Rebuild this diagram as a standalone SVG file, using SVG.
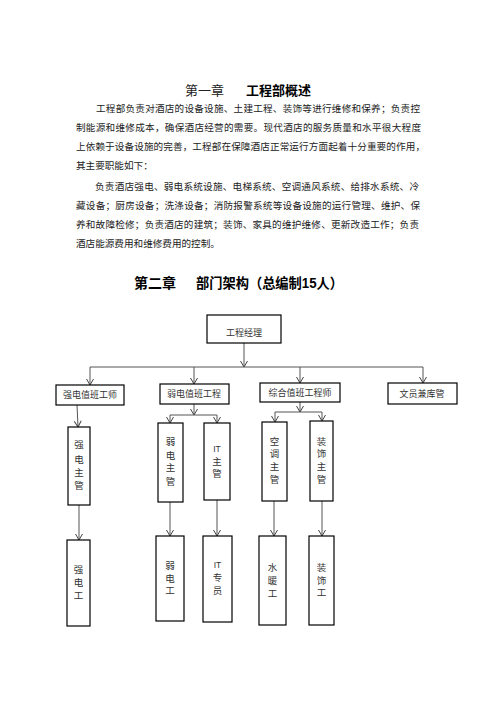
<svg xmlns="http://www.w3.org/2000/svg" width="496" height="702" viewBox="0 0 496 702">
<style>
text{font-family:"Liberation Serif","Noto Sans CJK SC",serif;fill:#222}
.p{font-size:9.6px}
.h1{font-size:13px}
.b{font-weight:bold;fill:#000}
.sans{font-family:"Liberation Sans","Noto Sans CJK SC",sans-serif}
.box{fill:#fff;stroke:#000;stroke-width:1.2}
.lbl{font-size:9px;text-anchor:middle;fill:#333}
.v{font-size:9.5px;text-anchor:middle;fill:#333}
.c{fill:none;stroke:#555;stroke-width:1}
</style>
<defs>
<marker id="arr" markerWidth="10" markerHeight="10" refX="0" refY="0" orient="auto" markerUnits="userSpaceOnUse" overflow="visible">
<path d="M-6,-3.5 L0,0 L-6,3.5" fill="none" stroke="#444" stroke-width="1"/>
</marker>
</defs>
<rect width="496" height="702" fill="#fff"/>

<g id="text-chapter1">
<text class="h1" x="185" y="95">第一章</text>
<text class="h1 b sans" x="246" y="95">工程部概述</text>
<text class="p" x="96" y="112" textLength="324" lengthAdjust="spacing">工程部负责对酒店的设备设施、土建工程、装饰等进行维修和保养；负责控</text>
<text class="p" x="76" y="131" textLength="345" lengthAdjust="spacing">制能源和维修成本，确保酒店经营的需要。现代酒店的服务质量和水平很大程度</text>
<text class="p" x="76" y="150" textLength="349" lengthAdjust="spacing">上依赖于设备设施的完善，工程部在保障酒店正常运行方面起着十分重要的作用，</text>
<text class="p" x="76" y="169">其主要职能如下：</text>
<text class="p" x="95" y="190" textLength="324" lengthAdjust="spacing">负责酒店强电、弱电系统设施、电梯系统、空调通风系统、给排水系统、冷</text>
<text class="p" x="76" y="209" textLength="344" lengthAdjust="spacing">藏设备；厨房设备；洗涤设备；消防报警系统等设备设施的运行管理、维护、保</text>
<text class="p" x="76" y="228" textLength="343" lengthAdjust="spacing">养和故障检修；负责酒店的建筑；装饰、家具的维护维修、更新改造工作；负责</text>
<text class="p" x="76" y="247">酒店能源费用和维修费用的控制。</text>
</g>

<g id="text-chapter2">
<text class="b sans" x="134" y="288" font-size="14">第二章</text>
<text class="b sans" x="196" y="288" font-size="14" textLength="147" lengthAdjust="spacingAndGlyphs">部门架构（总编制15人）</text>
</g>

<g id="connectors">
<path class="c" d="M244,343 V367" marker-end="url(#arr)"/>
<path class="c" d="M90,367 H423"/>
<path class="c" d="M90,367 V385" marker-end="url(#arr)"/>
<path class="c" d="M194,367 V384" marker-end="url(#arr)"/>
<path class="c" d="M300,367 V383" marker-end="url(#arr)"/>
<path class="c" d="M423,367 V383" marker-end="url(#arr)"/>
<path class="c" d="M77,405 L78,427" marker-end="url(#arr)"/>
<path class="c" d="M194,404 V415" marker-end="url(#arr)"/>
<path class="c" d="M170,415 H217"/>
<path class="c" d="M170,415 V423" marker-end="url(#arr)"/>
<path class="c" d="M217,415 V423" marker-end="url(#arr)"/>
<path class="c" d="M300,402 V412" marker-end="url(#arr)"/>
<path class="c" d="M275,412 H322"/>
<path class="c" d="M275,412 V422" marker-end="url(#arr)"/>
<path class="c" d="M322,412 V421" marker-end="url(#arr)"/>
<path class="c" d="M79,505 V540" marker-end="url(#arr)" stroke="#999"/>
<path class="c" d="M170,502 V536" marker-end="url(#arr)"/>
<path class="c" d="M217,500 V536" marker-end="url(#arr)"/>
<path class="c" d="M274,501 V536" marker-end="url(#arr)"/>
<path class="c" d="M322,501 V536" marker-end="url(#arr)"/>
</g>

<g id="n-manager">
<rect class="box" x="207" y="315" width="74" height="28"/>
<text class="lbl" x="244" y="336" font-size="11.5">工程经理</text>
</g>
<g id="n-strong-duty">
<rect class="box" x="56" y="385" width="68" height="20"/>
<text class="lbl" x="90" y="398">强电值班工师</text>
</g>
<g id="n-weak-duty">
<rect class="box" x="160" y="384" width="69" height="20"/>
<text class="lbl" x="194" y="397">弱电值班工程</text>
</g>
<g id="n-general-duty">
<rect class="box" x="260" y="383" width="80" height="19"/>
<text class="lbl" x="300" y="396">综合值班工程师</text>
</g>
<g id="n-clerk">
<rect class="box" x="388" y="383" width="69" height="21"/>
<text class="lbl" x="422" y="397">文员兼库管</text>
</g>

<g id="n-strong-sup">
<rect class="box" x="68" y="427" width="22" height="78"/>
<text class="v"><tspan x="79" y="448">强</tspan><tspan x="79" y="463">电</tspan><tspan x="79" y="476">主</tspan><tspan x="79" y="489">管</tspan></text>
</g>
<g id="n-weak-sup">
<rect class="box" x="158" y="423" width="25" height="79"/>
<text class="v"><tspan x="170.5" y="445">弱</tspan><tspan x="170.5" y="459">电</tspan><tspan x="170.5" y="471">主</tspan><tspan x="170.5" y="485">管</tspan></text>
</g>
<g id="n-it-sup">
<rect class="box" x="204" y="423" width="26" height="77"/>
<text class="v"><tspan x="217" y="452" font-family="Liberation Sans, sans-serif" font-size="8.5">IT</tspan><tspan x="217" y="465">主</tspan><tspan x="217" y="477">管</tspan></text>
</g>
<g id="n-ac-sup">
<rect class="box" x="262" y="422" width="25" height="79"/>
<text class="v"><tspan x="274.5" y="445">空</tspan><tspan x="274.5" y="457">调</tspan><tspan x="274.5" y="470">主</tspan><tspan x="274.5" y="483">管</tspan></text>
</g>
<g id="n-deco-sup">
<rect class="box" x="310" y="421" width="23" height="80"/>
<text class="v"><tspan x="321.5" y="445">装</tspan><tspan x="321.5" y="457">饰</tspan><tspan x="321.5" y="470">主</tspan><tspan x="321.5" y="483">管</tspan></text>
</g>

<g id="n-strong-worker">
<rect class="box" x="67" y="540" width="23" height="86"/>
<text class="v"><tspan x="78.5" y="573">强</tspan><tspan x="78.5" y="586">电</tspan><tspan x="78.5" y="599">工</tspan></text>
</g>
<g id="n-weak-worker">
<rect class="box" x="156" y="536" width="28" height="85"/>
<text class="v"><tspan x="170" y="569">弱</tspan><tspan x="170" y="582">电</tspan><tspan x="170" y="594">工</tspan></text>
</g>
<g id="n-it-staff">
<rect class="box" x="203" y="536" width="29" height="86"/>
<text class="v"><tspan x="217.5" y="568" font-family="Liberation Sans, sans-serif" font-size="8.5">IT</tspan><tspan x="217.5" y="581">专</tspan><tspan x="217.5" y="594">员</tspan></text>
</g>
<g id="n-plumber">
<rect class="box" x="259" y="536" width="27" height="89"/>
<text class="v"><tspan x="272.5" y="571">水</tspan><tspan x="272.5" y="584">暖</tspan><tspan x="272.5" y="597">工</tspan></text>
</g>
<g id="n-deco-worker">
<rect class="box" x="309" y="536" width="25" height="89"/>
<text class="v"><tspan x="321.5" y="571">装</tspan><tspan x="321.5" y="584">饰</tspan><tspan x="321.5" y="596">工</tspan></text>
</g>
</svg>
